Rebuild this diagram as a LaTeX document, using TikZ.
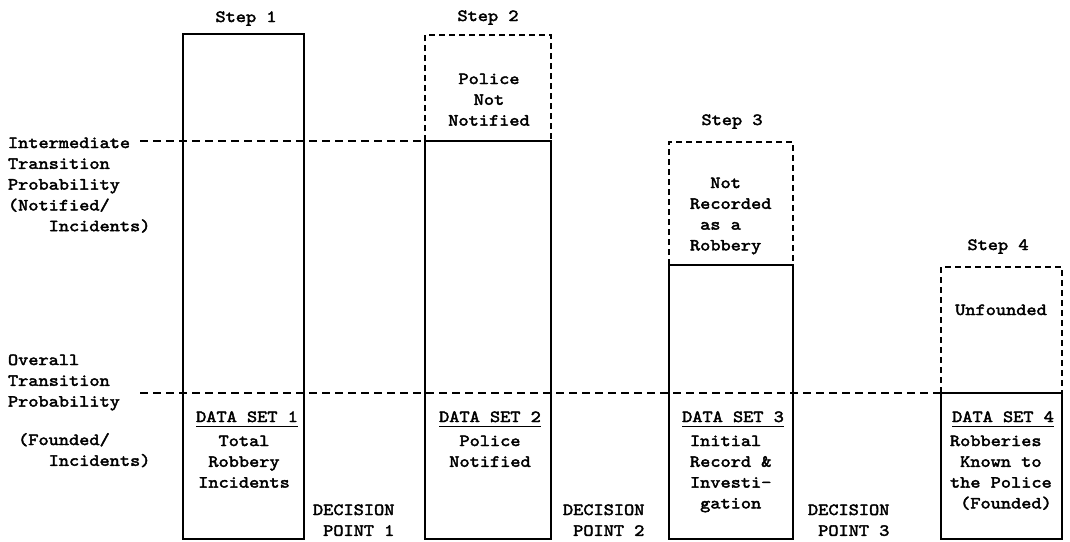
\documentclass[tikz,border=0pt]{standalone}
\usepackage{fontspec}
\newfontfamily\tw[Extension=.otf,FakeStretch=1.14,FakeBold=2.5]{lmmono10-regular}
\newcommand\txt{\tw\fontsize{17}{20.8}\selectfont}
\newcommand\ind{\phantom{0}}
\newcommand\cblock[1]{\begin{tabular}[t]{@{}c@{}}#1\end{tabular}}
\newcommand\lblock[1]{\begin{tabular}[t]{@{}l@{}}#1\end{tabular}}
\begin{document}
\begin{tikzpicture}[x=1pt,y=-1pt,
  solidbox/.style={draw, line width=2.8pt, inner sep=0pt, outer sep=0pt, anchor=north west},
  dashedge/.style={line width=2.2pt, dash pattern=on 6pt off 4pt},
  guide/.style={line width=2pt, dash pattern=on 8pt off 5pt},
  lbl/.style={font=\txt, inner sep=0pt, outer sep=0pt},
  uline/.style={line width=1.8pt}]
\useasboundingbox (0,0) rectangle (1070,541);

% solid boxes
\node[solidbox, minimum width=121pt, minimum height=505pt] (b1) at (183,34) {};
\node[solidbox, minimum width=126pt, minimum height=398pt] (b2) at (425,141) {};
\node[solidbox, minimum width=124pt, minimum height=274pt] (b3) at (669,265) {};
\node[solidbox, minimum width=121pt, minimum height=146pt] (b4) at (941,393) {};

% dashed upper parts
\coordinate (t2l) at (425,35);  \coordinate (t2r) at (551,35);
\coordinate (t3l) at (669,142); \coordinate (t3r) at (793,142);
\coordinate (t4l) at (941,267); \coordinate (t4r) at (1062,267);
\draw[dashedge] (b2.north west) -- (t2l) -- (t2r) -- (b2.north east);
\draw[dashedge] (b3.north west) -- (t3l) -- (t3r) -- (b3.north east);
\draw[dashedge] (b4.north west) -- (t4l) -- (t4r) -- (b4.north east);

% guide lines
\coordinate (g1) at (140,141);
\coordinate (g2) at (140,393);
\draw[guide] (g1) -- (b2.north west);
\draw[guide] (g2) -- (b4.north west);

% step labels
\node[lbl, anchor=base] (s1) at (246,22) {Step 1};
\node[lbl, anchor=base] (s2) at (488,21) {Step 2};
\node[lbl, anchor=base] (s3) at (732,125) {Step 3};
\node[lbl, anchor=base] (s4) at (998,250) {Step 4};

% left labels
\node[lbl, anchor=base west] (li) at (8,148) {\lblock{Intermediate\\Transition\\Probability\\(Notified/\\\ind\ind\ind\ind Incidents)}};
\node[lbl, anchor=base west] (lo) at (8,365) {\lblock{Overall\\Transition\\Probability}};
\node[lbl, anchor=base west] (lf) at (8,445) {\lblock{\ind(Founded/\\\ind\ind\ind\ind Incidents)}};

% upper box texts
\node[lbl, anchor=base] (u2) at (489,84) {\cblock{Police\\Not\\Notified}};
\node[lbl, anchor=base west] (u3) at (690,188) {\lblock{\ind\ind Not\\Recorded\\\ind as a\\Robbery}};
\node[lbl, anchor=base] (u4) at (1001,315) {Unfounded};

% data set labels
\node[lbl, anchor=base] (d1) at (247,422) {DATA SET 1};
\node[lbl, anchor=base] (d2) at (490,422) {DATA SET 2};
\node[lbl, anchor=base] (d3) at (733,422) {DATA SET 3};
\node[lbl, anchor=base] (d4) at (1003,422) {DATA SET 4};
\foreach \d in {d1,d2,d3,d4}
  \draw[uline] ([yshift=-4.5pt]\d.base west) -- ([yshift=-4.5pt]\d.base east);

% data set contents
\node[lbl, anchor=base] (c1) at (244,446) {\cblock{Total\\Robbery\\Incidents}};
\node[lbl, anchor=base] (c2) at (490,446) {\cblock{Police\\Notified}};
\node[lbl, anchor=base west] (c3) at (690,446) {\lblock{Initial\\Record \&\\Investi-\\\ind gation}};
\node[lbl, anchor=base west] (c4) at (950,446) {\lblock{Robberies\\\ind Known to\\the Police\\\ind(Founded)}};

% decision points
\node[lbl, anchor=base west] (p1) at (313,515) {\lblock{DECISION\\\ind POINT 1}};
\node[lbl, anchor=base west] (p2) at (563,515) {\lblock{DECISION\\\ind POINT 2}};
\node[lbl, anchor=base west] (p3) at (808,515) {\lblock{DECISION\\\ind POINT 3}};
\end{tikzpicture}
\end{document}
